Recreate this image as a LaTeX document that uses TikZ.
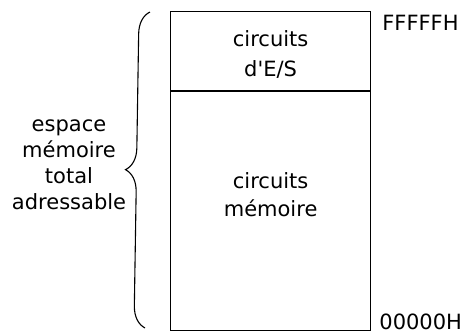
\documentclass[tikz,border=0pt]{standalone}
\usepackage{fontspec}
\setmainfont{DejaVu Sans}
\usetikzlibrary{decorations.pathreplacing}
\tikzset{
    memory-cell/.style = {draw=black, line width=1.2pt, rectangle, minimum width=200pt, inner sep=0pt},
    cell-text/.style = {anchor=base, align=center, inner sep=0pt, font=\fontsize{21}{30}\selectfont},
    address-label/.style = {inner sep=0pt, font=\fontsize{21}{25}\selectfont},
    brace-line/.style = {decorate, decoration={brace, amplitude=22pt}, line width=1.1pt},
}

\begin{document}
\begin{tikzpicture}[x=1pt, y=1pt]
\useasboundingbox (0,0) rectangle (463,332);
\node [memory-cell, minimum height=79pt, anchor=north west] (io) at (170,321) {};
\node [memory-cell, minimum height=239pt, anchor=north] (mem) at (io.south) {};
% base anchor sits on the last line
\node [cell-text] (io-text) at ([yshift=-66pt]io.north) {circuits\\d\textquotesingle E/S};
\node [cell-text, font=\fontsize{21}{28}\selectfont] (mem-text) at ([yshift=-125pt]mem.north) {circuits\\mémoire};
\node [address-label, anchor=north west] (top-addr) at ([xshift=11pt, yshift=-4pt]io.north east) {FFFFFH};
\node [address-label, anchor=base west] (bottom-addr) at ([xshift=8pt, yshift=1.5pt]mem.south east) {00000H};
% brace over the whole address range
\coordinate (brace-bottom) at (145,4);
\coordinate (brace-top) at (150,320);
\draw [brace-line] (brace-bottom) -- (brace-top);
\node [cell-text, font=\fontsize{21}{26}\selectfont] (space) at (69,122) {espace\\mémoire\\total\\adressable};
\end{tikzpicture}
\end{document}
